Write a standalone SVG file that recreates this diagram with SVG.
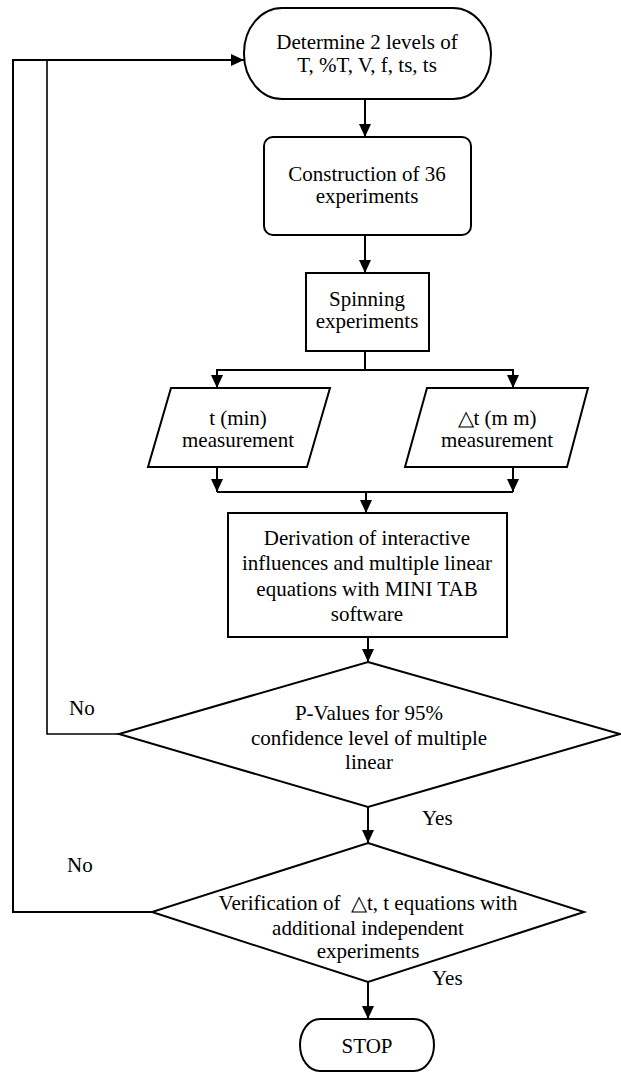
<svg xmlns="http://www.w3.org/2000/svg" width="621" height="1073" viewBox="0 0 621 1073">
<style>
.s{fill:#fff;stroke:#000;stroke-width:2}
.c{fill:none;stroke:#000;stroke-width:2}
text{font-family:"Liberation Serif","Times New Roman",serif;font-size:21px;fill:#000;text-anchor:middle}
.l{text-anchor:start}
</style>
<defs>
<marker id="ah" viewBox="0 0 13 12" refX="13" refY="6" markerWidth="13" markerHeight="12" markerUnits="userSpaceOnUse" orient="auto">
<path d="M0,0 L13,6 L0,12 z" fill="#000"/>
</marker>
</defs>
<rect width="621" height="1073" fill="#fff"/>
<g id="connectors">
<line class="c" x1="365" y1="99" x2="365" y2="137" marker-end="url(#ah)"/>
<line class="c" x1="365" y1="235" x2="365" y2="273" marker-end="url(#ah)"/>
<polyline class="c" points="365,351 365,370"/>
<polyline class="c" points="217,388 217,370 513,370 513,388"/>
<line class="c" x1="217" y1="370" x2="217" y2="388" marker-end="url(#ah)"/>
<line class="c" x1="513" y1="370" x2="513" y2="388" marker-end="url(#ah)"/>
<line class="c" x1="217" y1="467" x2="217" y2="492" marker-end="url(#ah)"/>
<line class="c" x1="513" y1="467" x2="513" y2="492" marker-end="url(#ah)"/>
<line class="c" x1="217" y1="492" x2="513" y2="492"/>
<line class="c" x1="366" y1="492" x2="366" y2="513" marker-end="url(#ah)"/>
<line class="c" x1="368" y1="637" x2="368" y2="662" marker-end="url(#ah)"/>
<line class="c" x1="368" y1="807" x2="368" y2="843" marker-end="url(#ah)"/>
<line class="c" x1="368" y1="982" x2="368" y2="1019" marker-end="url(#ah)"/>
<polyline class="c" points="119,734 47,734 47,60" style="stroke-width:1.6"/>
<polyline class="c" points="152,912 13,912 13,60 244,60" marker-end="url(#ah)"/>
<text class="l" x="69" y="715">No</text>
<text class="l" x="67" y="872">No</text>
<text class="l" x="422" y="825">Yes</text>
<text class="l" x="432" y="985">Yes</text>
</g>
<g id="start">
<rect class="s" x="244" y="8" width="247" height="91" rx="38" ry="45"/>
<text x="367" y="49">Determine 2 levels of</text>
<text x="367" y="72">T, %T, V, f, ts, ts</text>
</g>
<g id="construction">
<rect class="s" x="264" y="137" width="207" height="98" rx="9"/>
<text x="367" y="181">Construction of 36</text>
<text x="367" y="203">experiments</text>
</g>
<g id="spinning">
<rect class="s" x="306" y="273" width="123" height="78"/>
<text x="367" y="306">Spinning</text>
<text x="367" y="328">experiments</text>
</g>
<g id="t-measure">
<polygon class="s" points="171,388 330,388 307,467 148,467"/>
<text x="238" y="425">t (min)</text>
<text x="238" y="447">measurement</text>
</g>
<g id="dt-measure">
<polygon class="s" points="427,388 588,388 567,467 405,467"/>
<text x="497" y="425">△t (m m)</text>
<text x="497" y="447">measurement</text>
</g>
<g id="derivation">
<rect class="s" x="228" y="513" width="279" height="124"/>
<text x="367" y="545">Derivation of interactive</text>
<text x="367" y="570">influences and multiple linear</text>
<text x="367" y="596">equations with MINI TAB</text>
<text x="367" y="621">software</text>
</g>
<g id="pvalues">
<polygon class="s" points="368,662 620,734 368,807 119,734"/>
<text x="369" y="720">P-Values for 95%</text>
<text x="369" y="745">confidence level of multiple</text>
<text x="369" y="769">linear</text>
</g>
<g id="verification">
<polygon class="s" points="368,843 584,912 368,982 152,912"/>
<text x="368" y="910" xml:space="preserve">Verification of  △t, t equations with</text>
<text x="368" y="935">additional independent</text>
<text x="368" y="958">experiments</text>
</g>
<g id="stop">
<rect class="s" x="300" y="1019" width="134" height="52" rx="20" ry="26"/>
<text x="367" y="1053">STOP</text>
</g>
</svg>
